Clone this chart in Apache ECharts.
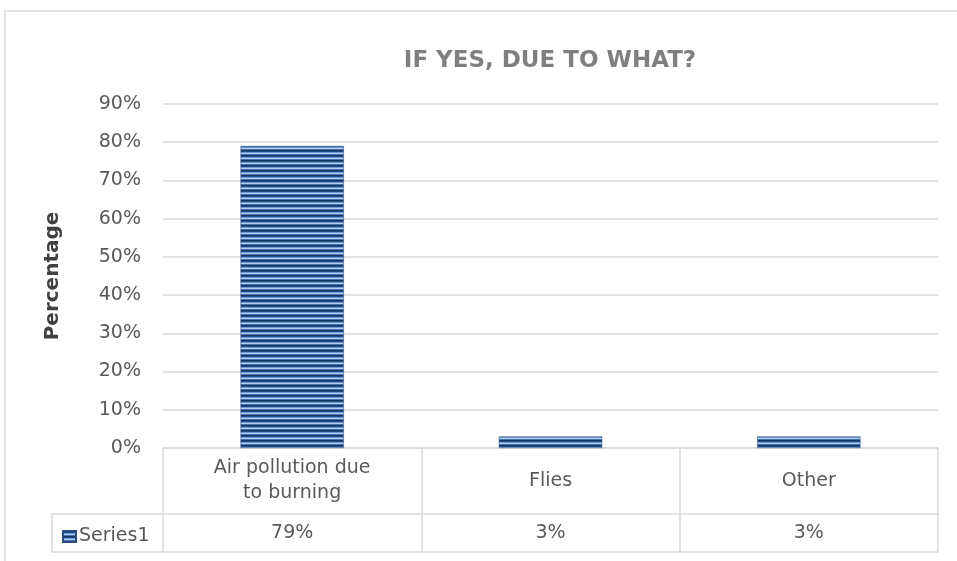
<!DOCTYPE html>
<html>
<head>
<meta charset="utf-8">
<script src="https://cdn.jsdelivr.net/npm/echarts@6/dist/echarts.min.js"></script>
<style>
html,body{margin:0;padding:0;background:#fff;}
#chart{width:957px;height:561px;}
</style>
</head>
<body>
<div id="chart"></div>
<script>
var categories = ['Air pollution due\nto burning', 'Flies', 'Other'];
var values = [79, 3, 3];
var seriesName = 'Series1';
var titleText = 'IF YES, DUE TO WHAT?';
var yTicks = [0, 10, 20, 30, 40, 50, 60, 70, 80, 90];

function makePattern() {
  var c = document.createElement('canvas');
  c.width = 4; c.height = 5;
  var ctx = c.getContext('2d');
  var rows = ['#17365d', '#1f4e8a', '#6d9ad3', '#b3cdee', '#4673b0'];
  for (var i = 0; i < rows.length; i++) {
    ctx.fillStyle = rows[i];
    ctx.fillRect(0, i, 4, 1);
  }
  return c;
}
var pattern = { image: makePattern(), repeat: 'repeat' };

var FONT = 'DejaVu Sans';
var TXT = '#595959';
var LINE = '#d9d9d9';

var chart = echarts.init(document.getElementById('chart'), null, { renderer: 'canvas' });
chart.setOption({
  backgroundColor: '#fff',
  animation: false,
  title: {
    text: titleText,
    left: 545,
    top: 45,
    textAlign: 'center',
    textStyle: { fontFamily: FONT, fontSize: 23, fontWeight: 'bold', color: '#7f7f7f' }
  },
  legend: {
    data: [seriesName],
    left: 57,
    top: 522,
    icon: 'rect',
    itemWidth: 13,
    itemHeight: 11,
    itemGap: 4,
    textStyle: { fontFamily: FONT, fontSize: 19, color: TXT, padding: [0, 0, 0, -2] }
  },
  grid: { left: 163, right: 19, top: 104, bottom: 113, containLabel: false },
  xAxis: [
    {
      type: 'category',
      data: categories,
      position: 'bottom',
      axisLine: { show: true, lineStyle: { color: LINE, width: 1.5 } },
      axisTick: { show: true, length: 104, lineStyle: { color: LINE, width: 1.5 } },
      axisLabel: {
        margin: 33, verticalAlign: 'middle', fontFamily: FONT, fontSize: 19,
        color: TXT, lineHeight: 25, align: 'center'
      }
    },
    {
      type: 'category',
      data: values.map(function (v) { return v + '%'; }),
      position: 'bottom',
      offset: 66,
      axisLine: { show: true, lineStyle: { color: LINE, width: 1.5 } },
      axisTick: { show: false },
      axisLabel: { margin: 19, verticalAlign: 'middle', fontFamily: FONT, fontSize: 19, color: TXT }
    },
    {
      type: 'category',
      data: categories,
      position: 'bottom',
      offset: 104,
      axisLine: { show: true, lineStyle: { color: LINE, width: 1.5 } },
      axisTick: { show: false },
      axisLabel: { show: false }
    }
  ],
  yAxis: {
    type: 'value',
    min: yTicks[0],
    max: yTicks[yTicks.length - 1],
    interval: 10,
    name: 'Percentage',
    nameLocation: 'middle',
    nameGap: 100,
    nameRotate: 90,
    nameTextStyle: { fontFamily: FONT, fontSize: 20, fontWeight: 'bold', color: '#404040' },
    axisLine: { show: false },
    axisTick: { show: false },
    axisLabel: { formatter: '{value}%', margin: 22, fontFamily: FONT, fontSize: 19, color: TXT },
    splitLine: { lineStyle: { color: LINE, width: 1.5 } }
  },
  graphic: [
    { type: 'rect', shape: { x: 5, y: 11, width: 1200, height: 800 }, style: { fill: 'none', stroke: LINE, lineWidth: 1.5 }, silent: true, z: -1 },
    { type: 'polyline', shape: { points: [[163, 514], [52, 514], [52, 552], [163, 552]] }, style: { fill: 'none', stroke: LINE, lineWidth: 1.5 }, silent: true }
  ],
  series: [{
    name: seriesName,
    type: 'bar',
    data: values,
    barWidth: '40%',
    xAxisIndex: 0,
    itemStyle: { color: pattern, borderColor: '#2a4d7f', borderWidth: 0.5 }
  }]
});
</script>
</body>
</html>
